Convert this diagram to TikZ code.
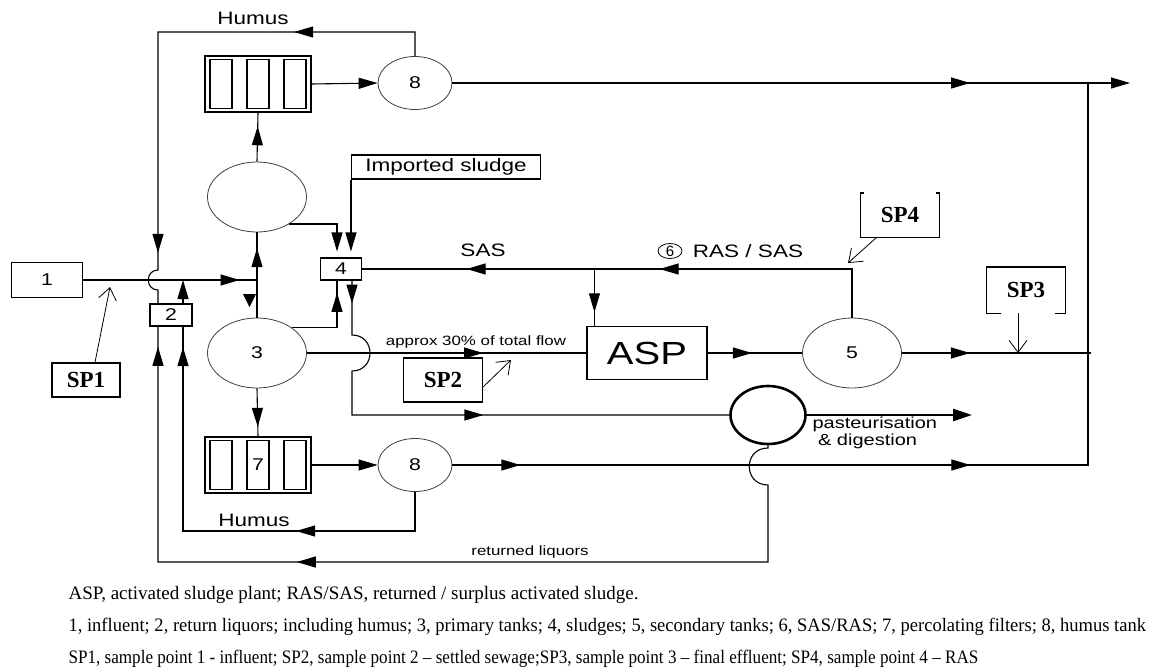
\documentclass[tikz,border=0pt]{standalone}
\usepackage{fontspec}
\usepackage{graphicx}
\setmainfont{Liberation Serif}
\setsansfont{Liberation Sans}
\usetikzlibrary{arrows.meta,shapes.geometric,decorations.markings}
\newcommand{\hstretch}[1]{\scalebox{1.25}[1]{#1}}

\begin{document}
\begin{tikzpicture}[x=1pt,y=-1pt,line width=1.1pt,
    >={Triangle[length=19pt,width=11pt]},
    box/.style={draw,inner sep=0pt,font=\sffamily\fontsize{17}{20}\selectfont},
    tank/.style={ellipse,draw=black!75,line width=.8pt,inner sep=0pt,minimum width=99pt,minimum height=70pt,font=\sffamily\fontsize{17}{20}\selectfont},
    hum/.style={tank,minimum width=74pt,minimum height=53pt},
    filt/.style={draw,inner sep=0pt,minimum width=106pt,minimum height=56pt},
    cell/.style={draw,inner sep=0pt,minimum width=22pt,minimum height=49pt},
    lbl/.style={inner sep=0pt,font=\sffamily\fontsize{18}{20}\selectfont},
    small/.style={inner sep=0pt,font=\sffamily\fontsize{13.5}{15}\selectfont},
    spbox/.style={inner sep=0pt,font=\bfseries\fontsize{23}{25}\selectfont},
    captxt/.style={inner sep=0pt,anchor=west,font=\fontsize{19}{21}\selectfont},
    ar/.style={postaction={decorate,decoration={markings,mark=at position #1 with {\arrow{>}}}}},
    ptr/.style={line width=.8pt,-{Straight Barb[length=12pt,width=18pt]}}]

    %bounding box
    \useasboundingbox (0,0) rectangle (1169,670);

    %influent and return liquors
    \node[box,minimum width=71pt,minimum height=35pt] (in1) at (47,280) {\hstretch{1}};
    \node[box,minimum width=42pt,minimum height=22pt] (ret2) at (171,315) {\hstretch{2}};

    %primary tanks
    \node[tank] (prim0) at (257,197) {};
    \node[tank] (prim) at (257,353) {\hstretch{3}};

    %percolating filters
    \node[filt] (filtT) at (258,84) {};
    \node[filt] (filtB) at (258,465) {};
    \foreach \f in {filtT,filtB}
        \foreach \k [count=\i] in {-37,0,37}
            \node[cell] (\f-\i) at ([xshift=\k pt]\f.center) {};
    \node[lbl,font=\sffamily\fontsize{17}{20}\selectfont] (f7) at (filtB-2) {\hstretch{7}};

    %humus tanks
    \node[hum] (hum1) at (415,83) {\hstretch{8}};
    \node[hum] (hum2) at (415,465) {\hstretch{8}};

    %sludges
    \node[box,minimum width=41pt,minimum height=22pt] (sl4) at (341,269) {\hstretch{4}};
    \node[box,minimum width=189pt,minimum height=24pt,font=\sffamily\fontsize{18}{20}\selectfont] (imp) at (446,167) {\hstretch{Imported sludge}};

    %ASP, secondary tanks, pasteurisation
    \node[box,minimum width=120pt,minimum height=53pt,font=\sffamily\fontsize{32}{34}\selectfont] (asp) at (647,353) {\hstretch{ASP}};
    \node[tank] (sec5) at (852,353) {\hstretch{5}};
    \node[ellipse,draw,line width=2.6pt,inner sep=0pt,minimum width=75pt,minimum height=58pt] (past) at (768,415) {};

    %points
    \coordinate (jn) at (prim.north |- in1.east);
    \coordinate (hx) at ([xshift=-13pt]ret2.north);
    \coordinate (hx2) at ([xshift=-13pt]ret2.south);
    \coordinate (rx) at ([xshift=12pt]ret2.north);
    \coordinate (rx2) at ([xshift=12pt]ret2.south);
    \coordinate (hTop) at (158,32);
    \coordinate (hJa) at (158,270);
    \coordinate (hJb) at (158,290);
    \coordinate (hBot) at (183,531);
    \coordinate (rlBot) at (158,562);
    \coordinate (rlJa) at (768,448);
    \coordinate (rlJb) at (768,485);
    \coordinate (s4a) at ([xshift=-4pt]sl4.north);
    \coordinate (s4b) at ([xshift=-4pt]sl4.south);
    \coordinate (s4c) at ([xshift=11pt]sl4.south);
    \coordinate (sJa) at (352,335);
    \coordinate (sJb) at (352,371);
    \coordinate (rasj) at ([xshift=8pt]asp.north west |- sl4.east);
    \coordinate (out1) at (1130,83);
    \coordinate (out2) at (1091,353);
    \coordinate (vr) at (1088,83);
    \coordinate (pout) at (972,415);

    %influent line and primary column
    \draw[ar=.9] (in1.east) -- (jn);
    \draw[ar=.67] (jn) -- (prim0.south);
    \draw (jn) -- (prim.north);
    \fill ([shift={(-14,14)}]jn) -- ++(13,0) -- ++(-6.5,13) -- cycle;

    %to filters and humus tanks
    \draw[ar=.72] (prim0.north) -- (filtT.south);
    \draw[->] (filtT.east) -- (hum1.west);
    \draw[ar=.8] (prim.south) -- (filtB.north);
    \draw[->] (filtB.east) -- (hum2.west);

    %humus returns
    \draw[ar=145pt,ar=502pt] (hum1.north) |- (hTop) -- (hJa)
        .. controls +(-13,0) and +(-13,0) .. (hJb) -- (hx);
    \draw[ar=158pt,ar=455pt] (hum2.south) |- (hBot) -- (rx2);
    \draw[->] (rx) -- (rx |- jn);

    %returned liquors
    \draw[ar=610pt,ar=964pt] (past.south) -- (rlJa)
        .. controls +(-25,0) and +(-25,0) .. (rlJb) |- (rlBot) -- (hx2);

    %sludges into 4
    \draw[ar=80pt] (prim.36) -| (s4b);
    \draw[->,shorten >=6pt] (prim0.-40) -| (s4a);
    \draw[->,shorten >=6pt] (imp.south west) -- (imp.south west |- sl4.north);

    %sludge to pasteurisation
    \draw[ar=23pt,ar=287pt] (s4c) -- (sJa)
        .. controls +(24,0) and +(24,0) .. (sJb) |- (past.west);
    \draw[line width=2.6pt,-{Triangle[length=19pt,width=12pt]}] (past.east) -- (pout);

    %RAS / SAS
    \draw[ar=241pt,ar=434pt] (sec5.north) |- (sl4.east);
    \draw[ar=.76] (rasj) -- (rasj |- asp.north);

    %settled sewage and effluent
    \draw[ar=.63] (prim.east) -- (asp.west);
    \draw[ar=.47] (asp.east) -- (sec5.west);
    \draw[ar=.36] (sec5.east) -- (out2);
    \draw[ar=.764,->] (hum1.east) -- (out1);
    \draw[ar=68pt,ar=518pt] (hum2.east) -| (vr);

    %labels
    \node[lbl] (humT) at (253,18) {\hstretch{Humus}};
    \node[lbl] (humB) at (254,520) {\hstretch{Humus}};
    \node[lbl] (sas) at (483,250) {\hstretch{SAS}};
    \node[lbl] (ras) at (748,251) {\hstretch{RAS / SAS}};
    \node[ellipse,draw,line width=.8pt,inner sep=0pt,minimum width=24pt,minimum height=14pt,font=\sffamily\fontsize{15}{16}\selectfont] (six) at (670,251) {6};
    \node[small] (frac) at (476,342) {\hstretch{approx 30\% of total flow}};
    \node[small] (rliq) at (530,552) {\hstretch{returned liquors}};
    \node[lbl,anchor=north west,align=left,font=\sffamily\fontsize{16}{17}\selectfont] (pdig) at (812,416) {\hstretch{pasteurisation}\\\hstretch{\ \& digestion}};

    %sample points
    \node[spbox,draw,minimum width=68pt,minimum height=34pt] (sp1) at (86,380) {SP1};
    \node[spbox,draw,minimum width=79pt,minimum height=44pt] (sp2) at (443,380) {SP2};
    \node[spbox,minimum width=78pt,minimum height=45pt] (sp3) at (1026,290) {SP3};
    \node[spbox,minimum width=78pt,minimum height=43pt] (sp4) at (900,215) {SP4};
    \draw ([xshift=15pt]sp3.south west) -- (sp3.south west) -- (sp3.north west)
        -- (sp3.north east) -- (sp3.south east) -- ([xshift=-11pt]sp3.south east);
    \draw ([xshift=4pt]sp4.north west) -- (sp4.north west) -- (sp4.south west)
        -- (sp4.south east) -- (sp4.north east) -- ([xshift=-4pt]sp4.north east);
    \coordinate (sp1t) at (110,287);
    \coordinate (sp2t) at (511,360);
    \coordinate (sp4t) at (848,263);
    \draw[ptr] ([xshift=9pt]sp1.north) -- (sp1t);
    \draw[ptr] ([yshift=-7pt]sp2.east) -- (sp2t);
    \draw[ptr] ([xshift=-8pt]sp3.south) -- ([xshift=-8pt]sp3.south |- out2);
    \draw[ptr] ([xshift=-23pt]sp4.south) -- (sp4t);

    %caption
    \node[captxt] (cap1) at (68,595) {ASP, activated sludge plant; RAS/SAS, returned / surplus activated sludge.};
    \node[captxt] (cap2) at (68,627) {\scalebox{0.975}[1]{1, influent; 2, return liquors; including humus; 3, primary tanks; 4, sludges; 5, secondary tanks; 6, SAS/RAS; 7, percolating filters; 8, humus tank}};
    \node[captxt] (cap3) at (68,659) {\scalebox{0.9}[1]{SP1, sample point 1 - influent; SP2, sample point 2 -- settled sewage;SP3, sample point 3 -- final effluent; SP4, sample point 4 -- RAS}};

\end{tikzpicture}
\end{document}
